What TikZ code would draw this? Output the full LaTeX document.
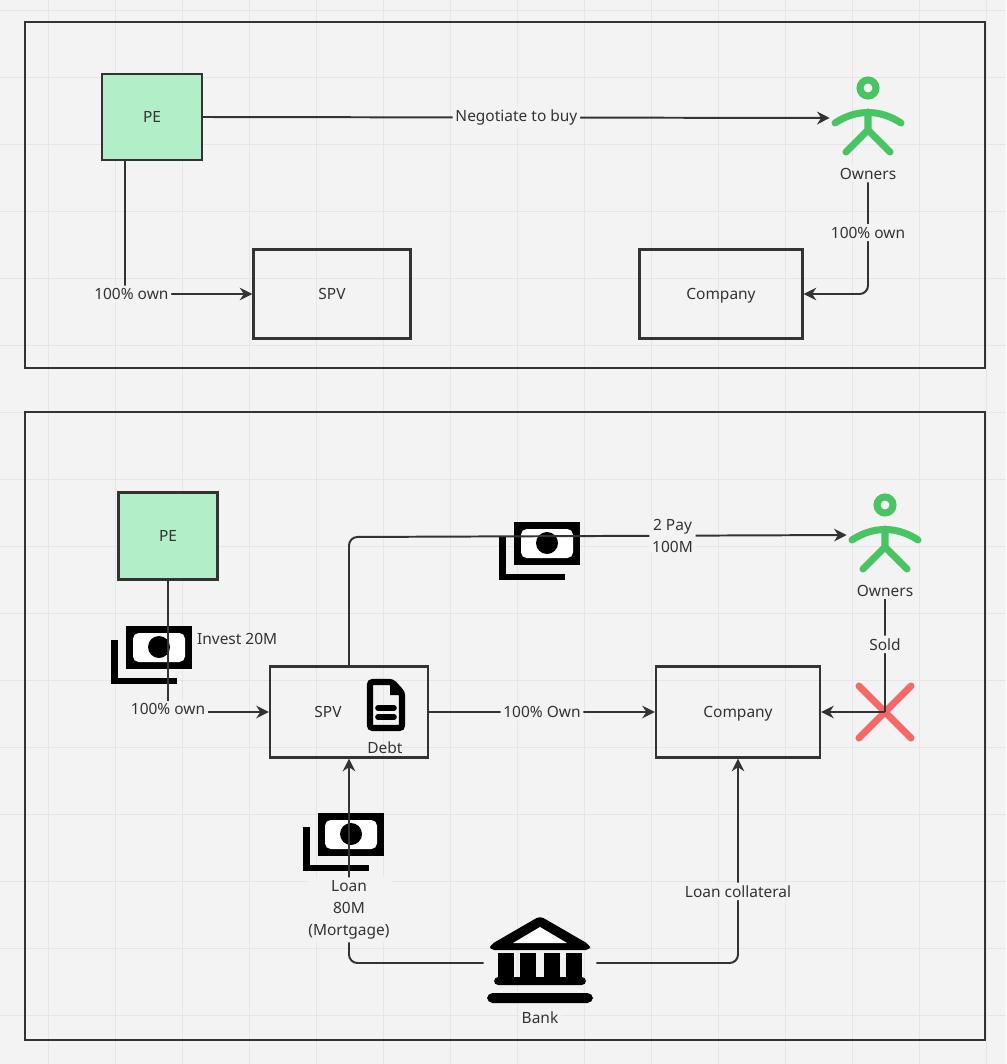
\documentclass[tikz,border=0pt]{standalone}
\usepackage{fontspec}
\setmainfont{Noto Sans}
\usetikzlibrary{positioning, calc, arrows.meta}
\definecolor{boardbg}{RGB}{243, 243, 243}
\definecolor{gridline}{RGB}{230, 230, 230}
\definecolor{peshade}{RGB}{178, 238, 200}
\definecolor{ownergreen}{RGB}{72, 196, 98}
\definecolor{crossred}{RGB}{245, 104, 104}
\definecolor{inkgray}{RGB}{51, 51, 51}

\tikzset{
    box/.style={draw=inkgray, line width=1.6pt, inner sep=0pt, font=\fontsize{11}{13}\selectfont, text=inkgray, text depth=0pt},
    frame/.style={draw=inkgray, line width=1.6pt},
    link/.style={draw=inkgray, line width=1.4pt, rounded corners=6pt},
    flow/.style={link, -{Stealth[length=9pt, width=9pt]}},
    tag/.style={fill=boardbg, inner sep=2pt, text=inkgray, font=\fontsize{11}{15.8}\selectfont, align=center},
    money/.pic={
        \fill[black] (-39,-7) rectangle (-32,37);
        \fill[black] (-39,31) rectangle (27,37);
        \fill[black] (-24,-21) rectangle (42,22);
        \fill[white, rounded corners=4pt] (-17,-14) rectangle (35,15);
        \fill[black] (9,0) circle (11);
    },
    owner/.pic={
        \draw[ownergreen, line width=5pt] (0,-30) circle (8);
        \draw[ownergreen, line width=5pt, line cap=round] (-33,5) .. controls (-12,-9) and (12,-9) .. (33,5);
        \draw[ownergreen, line width=5pt, line cap=round] (0,-6) -- (0,12) -- (-22,34);
        \draw[ownergreen, line width=5pt, line cap=round] (0,12) -- (22,34);
    },
    paper/.pic={
        \draw[black, line width=4.5pt, rounded corners=2pt] (-15,-23) -- (7,-23) -- (17,-12) -- (17,23) -- (-15,23) -- cycle;
        \fill[black] (5,-23) -- (17,-10) -- (5,-10) -- cycle;
        \draw[black, line width=4pt, line cap=round] (-7,3) -- (9,3) (-7,12) -- (9,12);
    },
    bank/.pic={
        \fill[black, rounded corners=3pt] (0,-47) -- (50,-18) -- (50,-13) -- (-50,-13) -- (-50,-18) -- cycle;
        \fill[white] (0,-36) -- (27,-20) -- (-27,-20) -- cycle;
        \foreach \cx in {-34,-12,12,34} {\fill[black] (\cx-8,-10) rectangle (\cx+8,14);}
        \fill[black, rounded corners=3pt] (-46,14) rectangle (46,22);
        \fill[black, rounded corners=4pt] (-53,30) rectangle (53,40);
    },
    redcross/.pic={
        \draw[crossred, line width=5pt, line cap=round] (-26,-26) -- (26,26) (-26,26) -- (26,-26);
    }
}

\begin{document}
\begin{tikzpicture}[x=0.025cm, y=-0.025cm]
    % board
    \fill[boardbg] (0,0) rectangle (1006,1064);
    \useasboundingbox (0,0) rectangle (1006,1064);
    \foreach \gx in {48,115,182,249,316,383,450,517,584,651,718,785,852,919,986} {
        \draw[gridline, line width=0.5pt] (\gx,0) -- (\gx,1064);
    }
    \foreach \gy in {10,77,144,211,278,345,412,479,546,613,680,747,814,881,948,1015} {
        \draw[gridline, line width=0.5pt] (0,\gy) -- (1006,\gy);
    }
    \draw[frame] (25,22) rectangle (985,368);
    \draw[frame] (25,412) rectangle (985,1040);

    % Before the deal
    \node[box, fill=peshade, minimum width=100*0.025cm, minimum height=86*0.025cm] (pe1) at (152,117) {PE};
    \node[box, minimum width=157*0.025cm, minimum height=89*0.025cm] (spv1) at (332,294) {SPV};
    \node[box, minimum width=163*0.025cm, minimum height=89*0.025cm] (co1) at (721,294) {Company};
    \pic at (868,118) {owner};
    \node[inner sep=0pt, minimum size=76*0.025cm] (own1) at (868,118) {};
    \node[tag, below=6pt of own1] (own1txt) {Owners};

    \draw[flow] (pe1.east) -- node[tag] {Negotiate to buy} (own1.west);
    \draw[flow] (pe1.south -| 125,0) -- (125,294) -- node[tag, pos=0.05] {100\% own} (spv1.west);
    \draw[flow] (own1txt.south) -- node[tag, pos=0.45] {100\% own} (868,294) -- (co1.east);

    % After the deal
    \node[box, fill=peshade, minimum width=99*0.025cm, minimum height=87*0.025cm] (pe2) at (168,536) {PE};
    \node[box, minimum width=158*0.025cm, minimum height=91*0.025cm] (spv2) at (349,712) {};
    \node[tag, fill=none] at (328,712) {SPV};
    \node[box, minimum width=164*0.025cm, minimum height=91*0.025cm] (co2) at (738,712) {Company};
    \pic at (385,705) {paper};
    \node[tag, fill=none] at (385,748) {Debt};
    \pic at (885,535) {owner};
    \node[inner sep=0pt, minimum size=76*0.025cm] (own2) at (885,535) {};
    \node[tag, below=6pt of own2] (own2txt) {Owners};
    \pic at (885,712) {redcross};
    \coordinate (sold) at (885,712);
    \pic at (540,963) {bank};
    \node[inner sep=0pt, minimum width=112*0.025cm, minimum height=90*0.025cm] (bank) at (540,963) {};
    \node[tag, below=0pt of bank] {Bank};

    \pic at (150,647) {money};
    \pic at (538,543) {money};
    \pic at (342,834) {money};

    \draw[flow] (pe2.south) -- (168,712) -- (spv2.west);
    \node[tag] at (168,709) {100\% own};
    \node[tag, fill=none, anchor=west] at (194,639) {Invest 20M};
    \draw[flow] (spv2.north) -- (349,537) -- node[tag, pos=0.65] {2 Pay\\100M} (own2.west);
    \draw[flow] (spv2.east) -- node[tag] {100\% Own} (co2.west);
    \draw[link] (own2txt.south) -- node[tag, pos=0.4] {Sold} (sold);
    \draw[flow] (sold) -- (co2.east);
    \draw[flow] (bank.west) -- (349,963) -- node[tag, pos=0.26] {Loan\\80M\\(Mortgage)} (spv2.south);
    \draw[flow] (bank.east) -- (738,963) -- node[tag, pos=0.35] {Loan collateral} (co2.south);
\end{tikzpicture}
\end{document}
